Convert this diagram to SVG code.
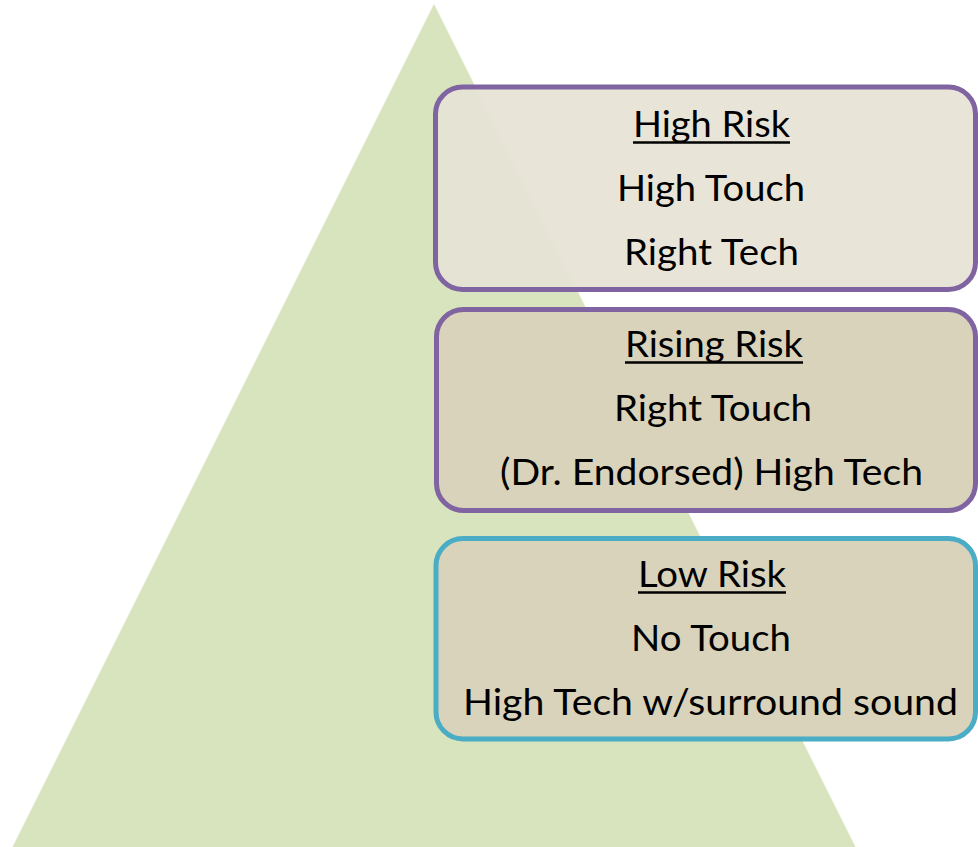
<svg xmlns="http://www.w3.org/2000/svg" width="978" height="847" viewBox="0 0 978 847">
  <style>
    .tier { stroke-width: 5; }
    .label { font-family: Lato, "Open Sans", "Liberation Sans", sans-serif; font-size: 37px; fill: #000; text-anchor: middle; }
    .rule { stroke: #000; stroke-width: 2.5; }
  </style>
  <rect width="978" height="847" fill="#ffffff"/>
  <!-- pyramid backdrop -->
  <g id="pyramid">
    <polygon points="434,4 12.5,847 855.5,847" fill="#d7e4bd"/>
  </g>
  <g id="connectors"></g>
  <g id="high-risk">
    <rect class="tier" x="435.5" y="87" width="540" height="202.5" rx="27" fill="#e6e3d5" fill-opacity="0.93" stroke="#8064a2"/>
    <text class="label" x="711.5" y="137" textLength="157" lengthAdjust="spacingAndGlyphs">High Risk</text>
    <line class="rule" x1="633" y1="142.5" x2="790" y2="142.5"/>
    <text class="label" x="711" y="201" textLength="188" lengthAdjust="spacingAndGlyphs">High Touch</text>
    <text class="label" x="711.5" y="265" textLength="175" lengthAdjust="spacingAndGlyphs">Right Tech</text>
  </g>
  <g id="rising-risk">
    <rect class="tier" x="436.5" y="309.5" width="539" height="201" rx="27" fill="#d8d3ba" stroke="#8064a2"/>
    <text class="label" x="714" y="357" textLength="178" lengthAdjust="spacingAndGlyphs">Rising Risk</text>
    <line class="rule" x1="625" y1="362.5" x2="803" y2="362.5"/>
    <text class="label" x="713" y="421" textLength="198" lengthAdjust="spacingAndGlyphs">Right Touch</text>
    <text class="label" x="711.5" y="485" textLength="423" lengthAdjust="spacingAndGlyphs">(Dr. Endorsed) High Tech</text>
  </g>
  <g id="low-risk">
    <rect class="tier" x="436" y="538.5" width="539.5" height="200.5" rx="27" fill="#d8d3ba" stroke="#4bacc6"/>
    <text class="label" x="712" y="587" textLength="148" lengthAdjust="spacingAndGlyphs">Low Risk</text>
    <line class="rule" x1="638" y1="592.5" x2="786" y2="592.5"/>
    <text class="label" x="711" y="651" textLength="160" lengthAdjust="spacingAndGlyphs">No Touch</text>
    <text class="label" x="710.5" y="715" textLength="495" lengthAdjust="spacingAndGlyphs">High Tech w/surround sound</text>
  </g>
</svg>
